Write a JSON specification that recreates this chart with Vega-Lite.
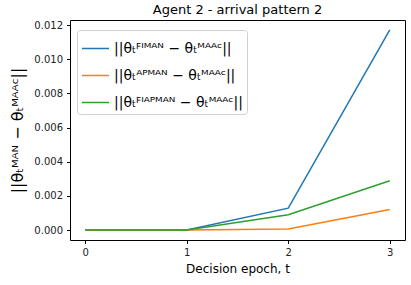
{
  "$schema": "https://vega.github.io/schema/vega-lite/v6.json",
  "width": 335,
  "height": 220,
  "autosize": {"type": "none"},
  "padding": {"left": 70, "top": 20, "right": 6, "bottom": 45},
  "background": "white",
  "config": {
    "font": "DejaVu Sans",
    "view": {"stroke": "black", "strokeWidth": 1},
    "axis": {"grid": false, "domain": false, "tickColor": "black", "tickSize": 3.5, "labelColor": "#222", "labelFontSize": 10, "titleFontWeight": "normal", "titleColor": "black"}
  },
  "title": {"text": "Agent 2 - arrival pattern 2", "fontSize": 13, "fontWeight": "normal", "offset": 3},
  "data": {"values": [
    {"t": 0, "v": 0.0, "s": "||θₜꟳᴵᴹᴬᴺ − θₜᴹᴬᴬᶜ||"},
    {"t": 1, "v": 0.0, "s": "||θₜꟳᴵᴹᴬᴺ − θₜᴹᴬᴬᶜ||"},
    {"t": 2, "v": 0.00128, "s": "||θₜꟳᴵᴹᴬᴺ − θₜᴹᴬᴬᶜ||"},
    {"t": 3, "v": 0.01171, "s": "||θₜꟳᴵᴹᴬᴺ − θₜᴹᴬᴬᶜ||"},
    {"t": 0, "v": 0.0, "s": "||θₜᴬᴾᴹᴬᴺ − θₜᴹᴬᴬᶜ||"},
    {"t": 1, "v": 0.0, "s": "||θₜᴬᴾᴹᴬᴺ − θₜᴹᴬᴬᶜ||"},
    {"t": 2, "v": 0.00006, "s": "||θₜᴬᴾᴹᴬᴺ − θₜᴹᴬᴬᶜ||"},
    {"t": 3, "v": 0.0012, "s": "||θₜᴬᴾᴹᴬᴺ − θₜᴹᴬᴬᶜ||"},
    {"t": 0, "v": 0.0, "s": "||θₜꟳᴵᴬᴾᴹᴬᴺ − θₜᴹᴬᴬᶜ||"},
    {"t": 1, "v": 0.0, "s": "||θₜꟳᴵᴬᴾᴹᴬᴺ − θₜᴹᴬᴬᶜ||"},
    {"t": 2, "v": 0.00089, "s": "||θₜꟳᴵᴬᴾᴹᴬᴺ − θₜᴹᴬᴬᶜ||"},
    {"t": 3, "v": 0.00288, "s": "||θₜꟳᴵᴬᴾᴹᴬᴺ − θₜᴹᴬᴬᶜ||"}
  ]},
  "mark": {"type": "line", "strokeWidth": 1.5},
  "encoding": {
    "x": {"field": "t", "type": "quantitative",
      "scale": {"domain": [-0.15, 3.15], "nice": false, "zero": false},
      "axis": {"values": [0, 1, 2, 3], "format": "d", "title": "Decision epoch, t", "titleFontSize": 12, "titlePadding": 6, "labelPadding": 4}},
    "y": {"field": "v", "type": "quantitative",
      "scale": {"domain": [-0.000585, 0.012295], "nice": false, "zero": false},
      "axis": {"values": [0, 0.002, 0.004, 0.006, 0.008, 0.01, 0.012], "format": ".3f", "title": "||θₜᴹᴬᴺ − θₜᴹᴬᴬᶜ||", "titleFontSize": 16, "titlePadding": 8, "labelPadding": 4}},
    "color": {"field": "s", "type": "nominal",
      "scale": {"domain": ["||θₜꟳᴵᴹᴬᴺ − θₜᴹᴬᴬᶜ||", "||θₜᴬᴾᴹᴬᴺ − θₜᴹᴬᴬᶜ||", "||θₜꟳᴵᴬᴾᴹᴬᴺ − θₜᴹᴬᴬᶜ||"], "range": ["#1f77b4", "#ff7f0e", "#2ca02c"]},
      "legend": {"title": null, "orient": "none", "legendX": 7, "legendY": 10, "symbolType": "stroke", "symbolSize": 729, "symbolStrokeWidth": 1.5, "labelFontSize": 14, "labelColor": "black", "rowPadding": 5, "padding": 4, "fillColor": "white", "strokeColor": "#d0d0d0", "cornerRadius": 3, "labelLimit": 300, "symbolOffset": 0}}
  }
}
